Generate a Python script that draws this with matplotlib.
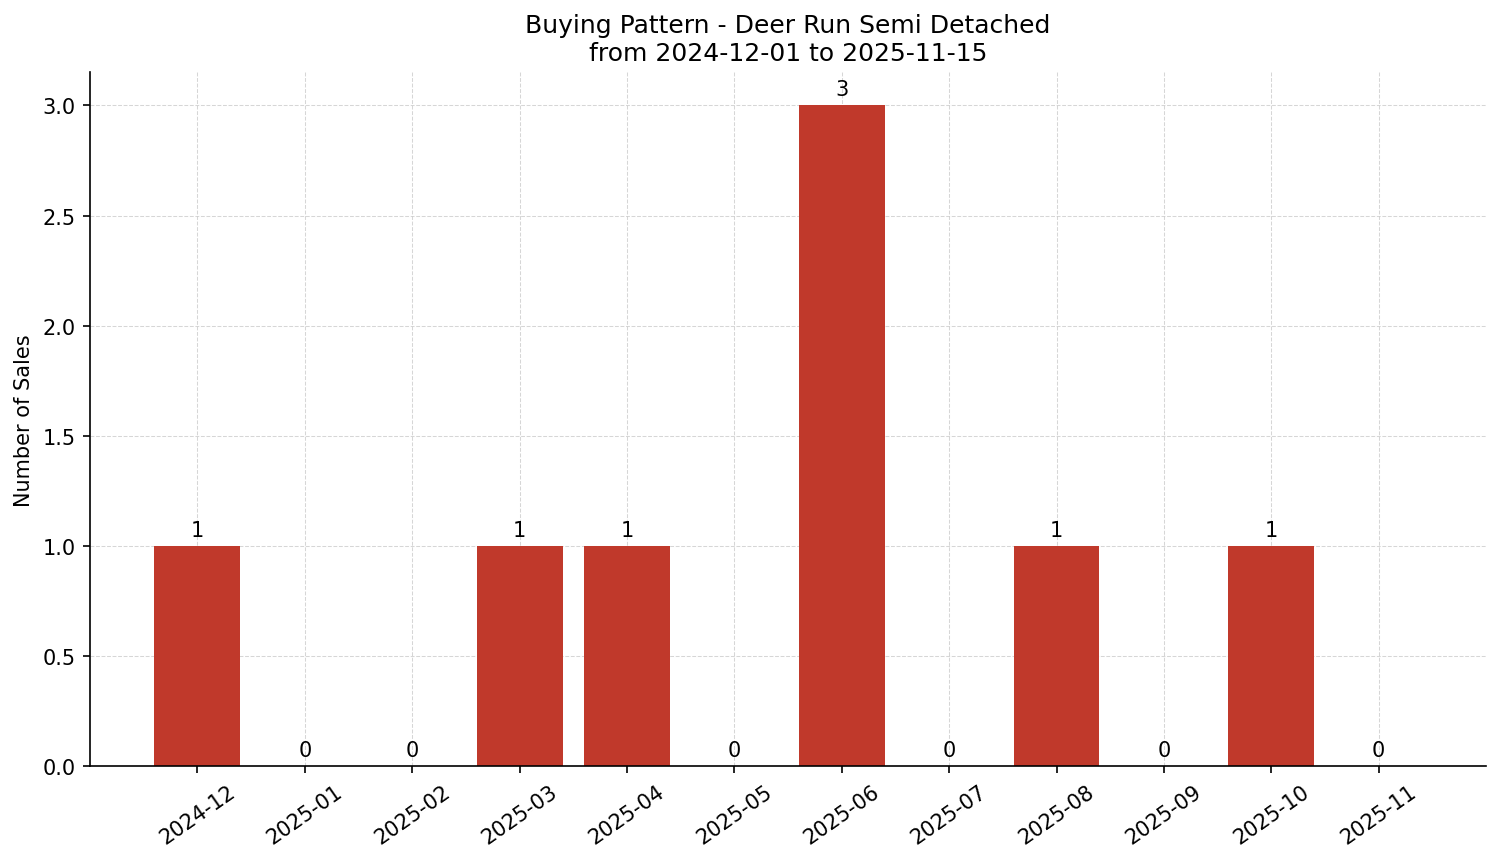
import matplotlib
matplotlib.use("Agg")
import matplotlib.pyplot as plt

meses = ["2024-12", "2025-01", "2025-02", "2025-03", "2025-04", "2025-05",
         "2025-06", "2025-07", "2025-08", "2025-09", "2025-10", "2025-11"]
vendas = [1, 0, 0, 1, 1, 0, 3, 0, 1, 0, 1, 0]


def main():
    fig, ax = plt.subplots(figsize=(10.007, 5.753), dpi=150)
    x = list(range(len(meses)))
    barras = ax.bar(x, vendas, width=0.8, color="#c0392b", zorder=2)

    for b, v in zip(barras, vendas):
        ax.annotate(f"{v}", (b.get_x() + b.get_width() / 2, v),
                    xytext=(0, 3), textcoords="offset points",
                    ha="center", va="bottom", fontsize=10)

    ax.set_xticks(x)
    ax.set_xticklabels(meses, rotation=35)
    ax.set_xlim(-1, 12)
    ax.set_ylim(0, 3.15)
    ax.set_ylabel("Number of Sales")
    ax.set_title("Buying Pattern - Deer Run Semi Detached\nfrom 2024-12-01 to 2025-11-15")
    ax.grid(True, linestyle="--", linewidth=0.5, color="#cccccc", alpha=0.8, zorder=0)
    ax.spines["top"].set_visible(False)
    ax.spines["right"].set_visible(False)

    fig.subplots_adjust(left=0.06, right=0.99, top=0.915, bottom=0.111)
    fig.savefig("out.png")
    plt.close(fig)


if __name__ == "__main__":
    main()
